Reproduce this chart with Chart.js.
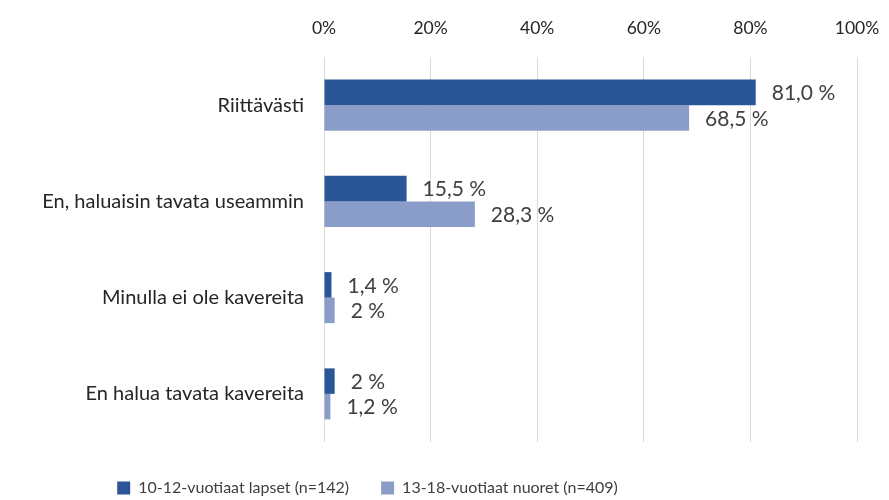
<!DOCTYPE html>
<html>
<head>
<meta charset="utf-8">
<script src="https://cdn.jsdelivr.net/npm/chart.js@4/dist/chart.umd.min.js"></script>
<style>
  html, body { margin: 0; padding: 0; background: #fff; }
  #wrap { width: 889px; height: 500px; }
</style>
</head>
<body>
<div id="wrap"><canvas id="chart"></canvas></div>
<script>
const categories = [
  "Riittävästi",
  "En, haluaisin tavata useammin",
  "Minulla ei ole kavereita",
  "En halua tavata kavereita",
];
const seriesNames = ["10-12-vuotiaat lapset (n=142)", "13-18-vuotiaat nuoret (n=409)"];
const children = [81.0, 15.5, 1.4, 2];
const youth = [68.5, 28.3, 2, 1.2];
const childrenLabels = ["81,0 %", "15,5 %", "1,4 %", "2 %"];
const youthLabels = ["68,5 %", "28,3 %", "2 %", "1,2 %"];
const xTicks = [0, 20, 40, 60, 80, 100];

const fontFamily = "Lato, 'Open Sans', sans-serif";

// draws value text just past the end of each bar
const valueLabels = {
  id: "valueLabels",
  afterDatasetsDraw(chart) {
    const ctx = chart.ctx;
    ctx.save();
    ctx.font = "21px " + fontFamily;
    ctx.fillStyle = "#404040";
    ctx.textAlign = "left";
    ctx.textBaseline = "middle";
    chart.data.datasets.forEach((ds, i) => {
      const meta = chart.getDatasetMeta(i);
      meta.data.forEach((bar, j) => {
        ctx.fillText(ds.valueText[j], bar.x + 16, bar.y + 1);
      });
    });
    ctx.restore();
  },
};

// legend sits left of centre and a bit lower in the original
const moveLegend = {
  id: "moveLegend",
  afterLayout(chart) {
    const lg = chart.legend;
    lg.left -= 61;
    lg.right -= 61;
    lg.top += 6;
    lg.bottom += 6;
  },
};

const ctx = document.getElementById("chart").getContext("2d");
new Chart(ctx, {
  type: "bar",
  data: {
    labels: categories,
    datasets: [
      {
        label: seriesNames[0],
        data: children,
        valueText: childrenLabels,
        backgroundColor: "#2a5597",
        categoryPercentage: 0.53,
        barPercentage: 1,
      },
      {
        label: seriesNames[1],
        data: youth,
        valueText: youthLabels,
        backgroundColor: "#8a9cc8",
        categoryPercentage: 0.53,
        barPercentage: 1,
      },
    ],
  },
  options: {
    indexAxis: "y",
    responsive: true,
    maintainAspectRatio: false,
    animation: false,
    layout: { padding: { left: 0, right: 32, top: 0, bottom: 0 } },
    scales: {
      x: {
        position: "top",
        min: 0,
        max: 100,
        afterBuildTicks: (scale) => {
          scale.ticks = xTicks.map((v) => ({ value: v }));
        },
        afterFit: (scale) => {
          scale.height = 57;
          scale.paddingLeft = 0;
          scale.paddingRight = 0;
        },
        grid: { color: "#d9d9d9", drawTicks: false, lineWidth: 1 },
        border: { display: false },
        ticks: {
          padding: 18,
          color: "#262626",
          font: { family: fontFamily, size: 17.5 },
          callback: (v) => v + "%",
        },
      },
      y: {
        afterFit: (scale) => {
          scale.width = 324;
        },
        grid: { display: false, drawTicks: false },
        border: { display: false },
        ticks: {
          padding: 20,
          color: "#262626",
          font: { family: fontFamily, size: 20 },
        },
      },
    },
    plugins: {
      legend: {
        position: "bottom",
        labels: {
          color: "#404040",
          font: { family: fontFamily, size: 16 },
          boxWidth: 13,
          boxHeight: 13,
          padding: 32,
        },
      },
      tooltip: { enabled: false },
    },
  },
  plugins: [valueLabels, moveLegend],
});
</script>
</body>
</html>
